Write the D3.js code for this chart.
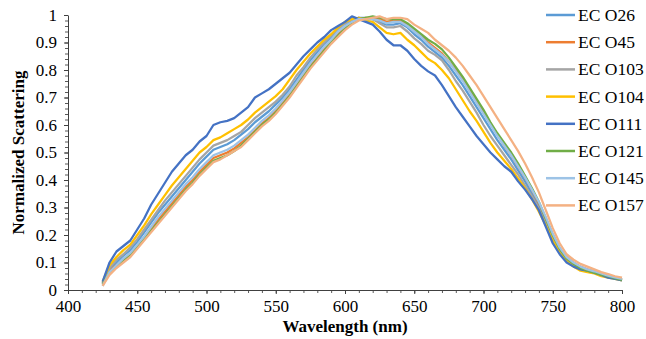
<!DOCTYPE html>
<html>
<head>
<meta charset="utf-8">
<script src="https://cdnjs.cloudflare.com/ajax/libs/d3/7.8.5/d3.min.js"></script>
<style>
    body { margin: 0; background: #ffffff; }
    svg text { font-family: "Liberation Serif", "Times New Roman", Times, serif !important; fill: #000; }
    .line { fill: none; stroke-width: 2.25; stroke-linejoin: round; }
</style>
</head>
<body>
<div id="chart"></div>
<script>
    // wavelength grid, 425..800 nm every 5 nm
    var wavelengths = d3.range(425, 801, 5);

    var seriesNames = ["EC O26", "EC O45", "EC O103", "EC O104", "EC O111", "EC O121", "EC O145", "EC O157"];
    var seriesColors = ["#5B9BD5", "#ED7D31", "#A5A5A5", "#FFC000", "#4472C4", "#70AD47", "#9DC3E6", "#F4B183"];

    var xTicks = [400, 450, 500, 550, 600, 650, 700, 750, 800];
    var yTicks = [0, 0.1, 0.2, 0.3, 0.4, 0.5, 0.6, 0.7, 0.8, 0.9, 1];

    var o26 = [0.025, 0.075, 0.10, 0.125, 0.145, 0.175, 0.21, 0.245, 0.28, 0.31, 0.34, 0.37, 0.40, 0.43, 0.46, 0.485,
        0.51, 0.52, 0.53, 0.545, 0.565, 0.585, 0.61, 0.63, 0.65, 0.675, 0.70, 0.73, 0.765, 0.80, 0.835, 0.865,
        0.895, 0.92, 0.945, 0.965, 0.98, 0.99, 0.99, 0.985, 0.975, 0.965, 0.965, 0.97, 0.955, 0.93, 0.91, 0.885,
        0.865, 0.845, 0.815, 0.78, 0.745, 0.705, 0.665, 0.625, 0.585, 0.545, 0.51, 0.475, 0.435, 0.395, 0.35,
        0.305, 0.25, 0.195, 0.145, 0.115, 0.095, 0.08, 0.07, 0.065, 0.058, 0.05, 0.044, 0.038];
    var o45 = [0.02, 0.07, 0.09, 0.11, 0.13, 0.16, 0.19, 0.22, 0.255, 0.285, 0.315, 0.345, 0.375, 0.40, 0.43, 0.455,
        0.48, 0.49, 0.50, 0.515, 0.535, 0.555, 0.58, 0.605, 0.625, 0.65, 0.68, 0.71, 0.745, 0.78, 0.815, 0.845,
        0.875, 0.905, 0.93, 0.955, 0.975, 0.985, 0.99, 0.99, 0.985, 0.975, 0.98, 0.98, 0.965, 0.945, 0.925, 0.90,
        0.88, 0.86, 0.83, 0.80, 0.765, 0.725, 0.685, 0.645, 0.605, 0.565, 0.525, 0.49, 0.45, 0.41, 0.365,
        0.315, 0.26, 0.20, 0.15, 0.12, 0.10, 0.085, 0.075, 0.068, 0.06, 0.052, 0.045, 0.04];
    var o103 = [0.025, 0.08, 0.11, 0.13, 0.155, 0.185, 0.22, 0.255, 0.29, 0.325, 0.355, 0.385, 0.415, 0.445, 0.475, 0.50,
        0.525, 0.535, 0.545, 0.56, 0.575, 0.60, 0.625, 0.645, 0.665, 0.685, 0.71, 0.74, 0.78, 0.81, 0.845, 0.875,
        0.90, 0.925, 0.95, 0.97, 0.985, 0.99, 0.985, 0.985, 0.97, 0.955, 0.955, 0.96, 0.94, 0.915, 0.895, 0.87,
        0.855, 0.835, 0.80, 0.76, 0.725, 0.685, 0.645, 0.60, 0.56, 0.525, 0.49, 0.455, 0.42, 0.38, 0.34,
        0.295, 0.24, 0.185, 0.14, 0.11, 0.09, 0.075, 0.068, 0.062, 0.055, 0.048, 0.042, 0.037];
    var o104 = [0.03, 0.09, 0.12, 0.145, 0.165, 0.20, 0.235, 0.275, 0.31, 0.345, 0.38, 0.41, 0.44, 0.47, 0.50, 0.52,
        0.545, 0.555, 0.57, 0.585, 0.60, 0.62, 0.645, 0.665, 0.685, 0.705, 0.73, 0.765, 0.80, 0.83, 0.86, 0.885,
        0.91, 0.93, 0.955, 0.975, 0.985, 0.99, 0.98, 0.975, 0.955, 0.935, 0.93, 0.935, 0.91, 0.89, 0.865, 0.84,
        0.825, 0.80, 0.77, 0.73, 0.69, 0.65, 0.615, 0.575, 0.535, 0.50, 0.47, 0.44, 0.405, 0.37, 0.33,
        0.285, 0.235, 0.18, 0.135, 0.105, 0.085, 0.07, 0.065, 0.06, 0.05, 0.045, 0.04, 0.035];
    var o111 = [0.03, 0.10, 0.14, 0.16, 0.18, 0.22, 0.26, 0.31, 0.35, 0.39, 0.43, 0.46, 0.49, 0.51, 0.54, 0.56,
        0.60, 0.61, 0.615, 0.625, 0.645, 0.665, 0.70, 0.715, 0.73, 0.75, 0.77, 0.79, 0.82, 0.85, 0.875, 0.90,
        0.92, 0.945, 0.96, 0.975, 0.995, 0.985, 0.975, 0.965, 0.94, 0.91, 0.89, 0.89, 0.87, 0.84, 0.815, 0.795,
        0.78, 0.745, 0.705, 0.665, 0.63, 0.595, 0.56, 0.53, 0.50, 0.475, 0.45, 0.43, 0.395, 0.365, 0.33,
        0.29, 0.23, 0.17, 0.13, 0.10, 0.085, 0.075, 0.07, 0.063, 0.055, 0.045, 0.04, 0.035];
    var o121 = [0.02, 0.065, 0.085, 0.105, 0.125, 0.155, 0.185, 0.215, 0.245, 0.275, 0.305, 0.335, 0.365, 0.39, 0.42, 0.445,
        0.47, 0.48, 0.49, 0.505, 0.525, 0.55, 0.575, 0.60, 0.62, 0.645, 0.675, 0.705, 0.74, 0.775, 0.81, 0.84,
        0.87, 0.90, 0.925, 0.95, 0.97, 0.985, 0.99, 0.995, 0.99, 0.985, 0.985, 0.985, 0.97, 0.95, 0.93, 0.91,
        0.895, 0.875, 0.845, 0.81, 0.775, 0.735, 0.695, 0.655, 0.61, 0.57, 0.535, 0.50, 0.46, 0.415, 0.37,
        0.32, 0.26, 0.20, 0.15, 0.115, 0.095, 0.08, 0.07, 0.063, 0.056, 0.05, 0.043, 0.037];
    var o145 = [0.015, 0.065, 0.09, 0.115, 0.135, 0.165, 0.195, 0.23, 0.265, 0.295, 0.325, 0.355, 0.385, 0.41, 0.44, 0.465,
        0.49, 0.50, 0.51, 0.525, 0.545, 0.565, 0.59, 0.615, 0.635, 0.66, 0.69, 0.72, 0.755, 0.79, 0.825, 0.855,
        0.885, 0.91, 0.94, 0.96, 0.975, 0.985, 0.985, 0.985, 0.98, 0.97, 0.975, 0.975, 0.96, 0.94, 0.92, 0.895,
        0.875, 0.855, 0.83, 0.795, 0.76, 0.72, 0.68, 0.64, 0.60, 0.56, 0.525, 0.49, 0.45, 0.41, 0.365,
        0.32, 0.265, 0.205, 0.155, 0.12, 0.10, 0.085, 0.075, 0.068, 0.06, 0.052, 0.046, 0.04];
    var o157 = [0.015, 0.055, 0.08, 0.10, 0.12, 0.15, 0.18, 0.21, 0.24, 0.27, 0.30, 0.33, 0.36, 0.385, 0.415, 0.44,
        0.465, 0.475, 0.49, 0.505, 0.52, 0.545, 0.57, 0.595, 0.615, 0.64, 0.67, 0.70, 0.735, 0.77, 0.805, 0.835,
        0.865, 0.895, 0.92, 0.945, 0.965, 0.98, 0.985, 0.99, 0.995, 0.985, 0.99, 0.99, 0.985, 0.965, 0.95, 0.935,
        0.91, 0.89, 0.87, 0.845, 0.815, 0.78, 0.745, 0.705, 0.665, 0.625, 0.585, 0.545, 0.505, 0.46, 0.41,
        0.355, 0.29, 0.225, 0.17, 0.13, 0.11, 0.095, 0.085, 0.075, 0.065, 0.058, 0.05, 0.045];

    var seriesValues = [o26, o45, o103, o104, o111, o121, o145, o157];

    var width = 646,
        height = 339;
    var margin = {left: 68, right: 24, top: 15, bottom: 49};

    var svg = d3.select("#chart")
        .append("svg")
        .attr("width", width)
        .attr("height", height);

    var x = d3.scaleLinear().domain([400, 800]).range([margin.left, width - margin.right]);
    var y = d3.scaleLinear().domain([0, 1]).range([height - margin.bottom, margin.top]);

    // minor ticks first so the majors sit over them
    svg.append("g")
        .attr("transform", "translate(" + margin.left + ",0)")
        .call(d3.axisLeft(y).tickValues(d3.range(0, 1.001, 0.02)).tickSize(3).tickFormat(""))
        .call(function (g) { g.select(".domain").remove(); })
        .selectAll("line").attr("stroke", "#595959");

    svg.append("g")
        .attr("transform", "translate(0," + y(0) + ")")
        .call(d3.axisBottom(x).tickValues(d3.range(400, 801, 10)).tickSize(3).tickFormat(""))
        .call(function (g) { g.select(".domain").remove(); })
        .selectAll("line").attr("stroke", "#595959");

    var yAxis = svg.append("g")
        .attr("transform", "translate(" + margin.left + ",0)")
        .call(d3.axisLeft(y).tickValues(yTicks).tickSize(4).tickSizeOuter(0).tickPadding(7)
            .tickFormat(function (d) { return d === 0 || d === 1 ? d : d3.format(".1f")(d); }));
    yAxis.attr("font-family", null);
    yAxis.select(".domain").attr("stroke", "#404040");
    yAxis.selectAll("line").attr("stroke", "#404040");
    yAxis.selectAll("text").attr("font-size", 17);

    var xAxis = svg.append("g")
        .attr("transform", "translate(0," + y(0) + ")")
        .call(d3.axisBottom(x).tickValues(xTicks).tickSize(4).tickSizeOuter(0).tickPadding(6));
    xAxis.attr("font-family", null);
    xAxis.select(".domain").attr("stroke", "#404040");
    xAxis.selectAll("line").attr("stroke", "#404040");
    xAxis.selectAll("text").attr("font-size", 17);

    // axis titles
    svg.append("text")
        .attr("x", (x(400) + x(800)) / 2)
        .attr("y", 332)
        .attr("text-anchor", "middle")
        .attr("font-size", 17)
        .attr("font-weight", "bold")
        .text("Wavelength (nm)");

    svg.append("text")
        .attr("transform", "translate(24," + ((y(0) + y(1)) / 2) + ") rotate(-90)")
        .attr("text-anchor", "middle")
        .attr("font-size", 17)
        .attr("font-weight", "bold")
        .text("Normalized Scattering");

    var line = d3.line()
        .x(function (d, i) { return x(wavelengths[i]); })
        .y(function (d) { return y(d); });

    svg.append("g").selectAll("path")
        .data(seriesValues)
        .enter().append("path")
        .attr("class", "line")
        .attr("stroke", function (d, i) { return seriesColors[i]; })
        .attr("d", line);

    // legend
    var legend = svg.append("g").selectAll("g")
        .data(seriesNames)
        .enter().append("g")
        .attr("transform", function (d, i) { return "translate(546," + (15 + i * 27.2) + ")"; });

    legend.append("line")
        .attr("x1", 0).attr("x2", 29)
        .attr("stroke-width", 2.5)
        .attr("stroke", function (d, i) { return seriesColors[i]; });

    legend.append("text")
        .attr("x", 32)
        .attr("y", 6)
        .attr("font-size", 17.5)
        .text(function (d) { return d; });
</script>
</body>
</html>
